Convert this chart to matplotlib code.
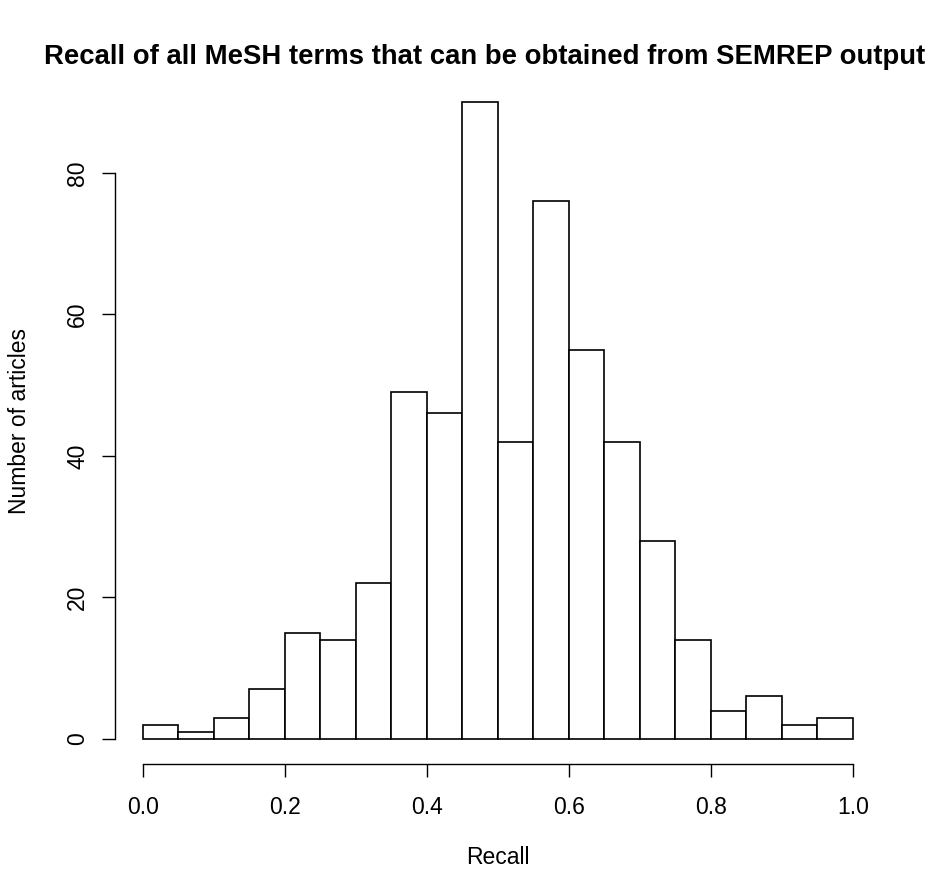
import matplotlib
matplotlib.use("Agg")
import matplotlib.pyplot as plt
import numpy as np

plt.rcParams['font.family'] = ['Liberation Sans', 'DejaVu Sans']

bin_edges = [0.0, 0.05, 0.10, 0.15, 0.20, 0.25, 0.30, 0.35, 0.40, 0.45, 0.50,
             0.55, 0.60, 0.65, 0.70, 0.75, 0.80, 0.85, 0.90, 0.95, 1.00]
counts = [2, 1, 3, 7, 15, 14, 22, 49, 46, 90, 42, 76, 55, 42, 28, 14, 4, 6, 2, 3]
x_ticks = [0.0, 0.2, 0.4, 0.6, 0.8, 1.0]
x_tick_labels = ["0.0", "0.2", "0.4", "0.6", "0.8", "1.0"]
y_ticks = [0, 20, 40, 60, 80]
title = "Recall of all MeSH terms that can be obtained from SEMREP output"
xlabel = "Recall"
ylabel = "Number of articles"

W, H = 929, 869
fig = plt.figure(figsize=(W / 100, H / 100), dpi=100)
ax = fig.add_axes([114.6 / W, 1 - 764.4 / H, (881.4 - 114.6) / W, (764.4 - 76.6) / H])

lefts = np.array(bin_edges[:-1])
widths = np.diff(bin_edges)
ax.bar(lefts, counts, width=widths, align='edge', facecolor='white',
       edgecolor='black', linewidth=1.2)

ax.set_xlim(-0.04, 1.04)
ax.set_ylim(-3.6, 93.6)

for s in ['top', 'right']:
    ax.spines[s].set_visible(False)
ax.spines['bottom'].set_bounds(0, 1)
ax.spines['left'].set_bounds(0, 80)
ax.spines['bottom'].set_linewidth(1.0)
ax.spines['left'].set_linewidth(1.0)

ax.set_xticks(x_ticks)
ax.set_xticklabels(x_tick_labels)
ax.set_yticks(y_ticks)
ax.set_yticklabels([str(v) for v in y_ticks], rotation=90, va='center')
ax.tick_params(axis='both', direction='out', length=9.4, width=1.0,
               labelsize=16.5)
ax.tick_params(axis='x', pad=13)
ax.tick_params(axis='y', pad=9)

fig.text(498 / W, 1 - 858 / H, xlabel, ha='center', va='center', fontsize=16.5)
fig.text(20 / W, 1 - 420.5 / H, ylabel, ha='center', va='center',
         fontsize=16.5, rotation=90)
fig.text(484.5 / W, 1 - 57 / H, title, ha='center', va='center',
         fontsize=19.8, fontweight='bold')

fig.savefig("out.png", dpi=100)
